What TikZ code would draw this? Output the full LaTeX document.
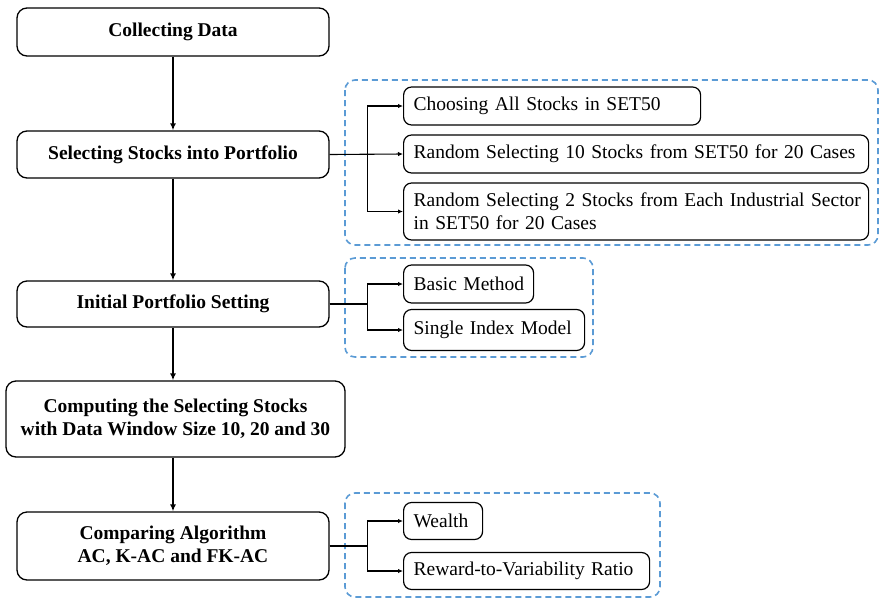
\documentclass[tikz,border=0pt]{standalone}
\usepackage{fontspec}
\setmainfont{Liberation Serif}
\usetikzlibrary{arrows.meta}

\definecolor{groupblue}{RGB}{91,155,213}
\newcommand\optspace{\fontdimen2\font=6.9pt\relax}

\begin{document}
\begin{tikzpicture}[x=1pt,y=-1pt,
  stepbox/.style={draw,rounded corners=10pt,line width=1.3pt,font=\fontsize{19.5}{23.4}\selectfont\bfseries,align=center,minimum width=312pt,inner sep=0pt},
  optbox/.style={draw,rounded corners=8pt,line width=1.2pt,font=\fontsize{19.5}{23.4}\selectfont,align=left,anchor=west,inner xsep=10pt,inner ysep=0pt},
  flow/.style={line width=1.8pt,-{Latex[length=7pt,width=6pt]}},
  branch/.style={line width=1.1pt,-{Latex[length=5pt,width=4.5pt]}},
  group/.style={draw=groupblue,line width=1.6pt,dash pattern=on 6pt off 4pt,rounded corners=10pt}]
\useasboundingbox (0,0) rectangle (882,600);

\draw[group] (345,80) rectangle (878,245);
\draw[group] (345,258) rectangle (593,357);
\draw[group] (345,493) rectangle (660,597);

\node[stepbox,minimum height=48pt] (collect) at (173,32) {Collecting Data};
\node[stepbox,minimum height=47pt] (select) at (173,154.5) {Selecting Stocks into Portfolio};
\node[stepbox,minimum height=46pt] (init) at (173,304) {Initial Portfolio Setting};
\node[stepbox,minimum width=339pt,minimum height=76pt] (compute) at (175.5,419) {Computing the Selecting Stocks\\with Data Window Size 10, 20 and 30};
\node[stepbox,minimum height=68pt] (compare) at (173,546) {Comparing Algorithm\\AC, K-AC and FK-AC};

\node[optbox,text width=277pt,minimum height=38pt] (allstocks) at (403,106) {\optspace\mbox{Choosing All Stocks in SET50}};
\node[optbox,text width=445pt,minimum height=38pt] (random10) at (403,154) {\optspace\mbox{Random Selecting 10 Stocks from SET50 for 20 Cases}};
\node[optbox,text width=445pt,minimum height=57pt] (random2) at (403,211.5) {\optspace\mbox{Random Selecting 2 Stocks from Each Industrial Sector}\\\mbox{in SET50 for 20 Cases}};

\node[optbox,text width=110pt,minimum height=38pt] (basic) at (403,284) {\optspace\mbox{Basic Method}};
\node[optbox,text width=161pt,minimum height=41pt] (singleindex) at (403,330) {\optspace\mbox{Single Index Model}};

\node[optbox,text width=59pt,minimum height=37pt] (wealth) at (403,521) {\optspace\mbox{Wealth}};
\node[optbox,text width=226pt,minimum height=37pt] (ratio) at (403,571) {\optspace\mbox{Reward-to-Variability Ratio}};

\draw[flow] (collect) -- (select);
\draw[flow] (select) -- (init);
\draw[flow] (init.south) -- (init.south |- compute.north);
\draw[flow] (compare.north |- compute.south) -- (compare.north);

\draw[branch] (select.east) -- ++(38,0) |- (allstocks.west);
\draw[branch] (select.east) -- (random10.west);
\draw[branch] (select.east) -- ++(38,0) |- (random2.west);

\draw[branch] (init.east) -- ++(38,0) |- (basic.west);
\draw[branch] (init.east) -- ++(38,0) |- (singleindex.west);

\draw[branch] (compare.east) -- ++(38,0) |- (wealth.west);
\draw[branch] (compare.east) -- ++(38,0) |- (ratio.west);
\end{tikzpicture}
\end{document}
